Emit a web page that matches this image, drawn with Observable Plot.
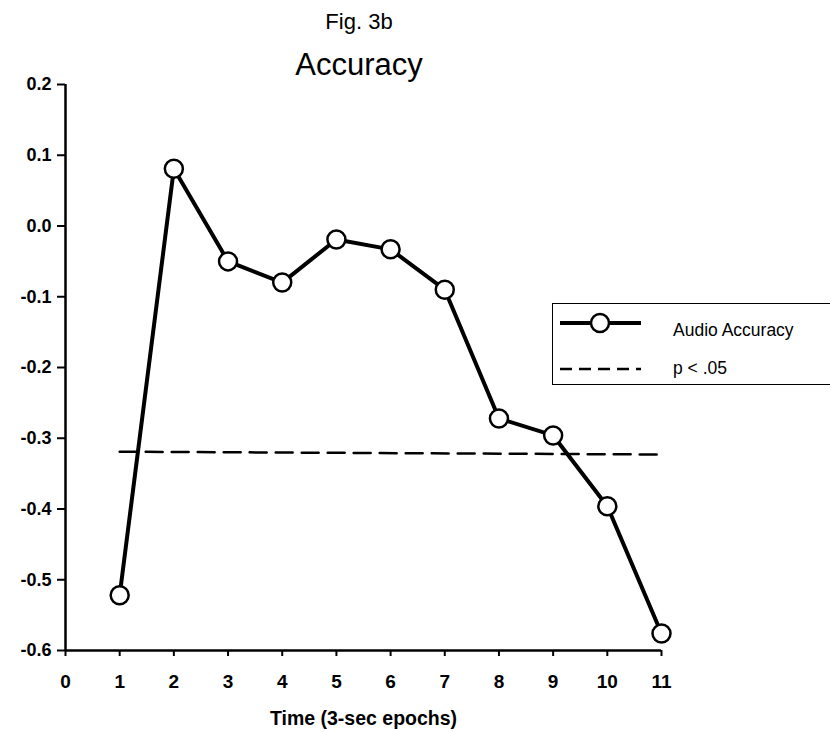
<!DOCTYPE html>
<html>
<head>
<meta charset="utf-8">
<script src="https://cdn.jsdelivr.net/npm/d3@7"></script>
<script src="https://cdn.jsdelivr.net/npm/@observablehq/plot@0.6"></script>
<style>
  html, body { margin: 0; padding: 0; background: #fff; }
  body { width: 830px; height: 732px; overflow: hidden; position: relative; font-family: "Liberation Sans", Arial, sans-serif; }
  #titles { position: relative; height: 74px; }
  .t { position: absolute; left: 0; width: 718px; text-align: center; color: #000; }
  #fig { top: 11px; font-size: 22px; line-height: 22px; }
  #main { top: 49px; font-size: 31px; line-height: 31px; }
  #legend { position: absolute; left: 552px; top: 303px; width: 300px; height: 82px; border: 1.5px solid #000; box-sizing: border-box; background: #fff; }
  #legend svg { position: absolute; left: 0; top: 0; }
  .lt { position: absolute; left: 120px; font-size: 17.5px; line-height: 18px; color: #000; }
</style>
</head>
<body>
<div id="titles">
  <div class="t" id="fig">Fig. 3b</div>
  <div class="t" id="main">Accuracy</div>
</div>
<div id="chart"></div>
<div id="legend">
  <svg width="120" height="80">
    <line x1="7" x2="88" y1="19" y2="19" stroke="#000" stroke-width="4"></line>
    <circle cx="47" cy="19" r="9" fill="#fff" stroke="#000" stroke-width="2.5"></circle>
    <line x1="7" x2="88" y1="65" y2="65" stroke="#000" stroke-width="2.5" stroke-dasharray="12,7"></line>
  </svg>
  <div class="lt" style="top:17px">Audio Accuracy</div>
  <div class="lt" style="top:55px">p &lt; .05</div>
</div>
<script>
const epochs = [1, 2, 3, 4, 5, 6, 7, 8, 9, 10, 11];
const accuracy = [-0.522, 0.081, -0.050, -0.080, -0.019, -0.033, -0.090, -0.272, -0.296, -0.396, -0.576];
const thresholdX = [1, 11];
const thresholdY = [-0.319, -0.323];
const xTicks = [0, 1, 2, 3, 4, 5, 6, 7, 8, 9, 10, 11];
const yTicks = [-0.6, -0.5, -0.4, -0.3, -0.2, -0.1, 0.0, 0.1, 0.2];
const xTitle = "Time (3-sec epochs)";

const series = epochs.map((e, i) => ({x: e, y: accuracy[i]}));
const thresh = thresholdX.map((e, i) => ({x: e, y: thresholdY[i]}));

const chart = Plot.plot({
  width: 830,
  height: 658,
  marginTop: 10,
  marginBottom: 82,
  marginLeft: 65,
  marginRight: 169,
  style: {fontFamily: "Liberation Sans, Arial, sans-serif", color: "#000", background: "#fff", overflow: "visible"},
  x: {domain: [0, 11]},
  y: {domain: [-0.6, 0.2]},
  marks: [
    Plot.axisY({ticks: yTicks, tickSize: 8, tickPadding: 6, tickFormat: d => d.toFixed(1), fontSize: 18, fontWeight: "bold", strokeWidth: 2, label: null}),
    Plot.axisX({ticks: xTicks, tickSize: 6, tickPadding: 18, tickFormat: d => String(d), fontSize: 19, fontWeight: "bold", strokeWidth: 2, label: null}),
    Plot.ruleX([0], {strokeWidth: 2.5}),
    Plot.ruleY([-0.6], {strokeWidth: 2.5}),
    Plot.text([xTitle], {frameAnchor: "bottom", dy: 74, fontSize: 19.5, fontWeight: "bold", lineAnchor: "bottom"}),
    Plot.line(thresh, {x: "x", y: "y", stroke: "#000", strokeWidth: 2.5, strokeDasharray: "17,9"}),
    Plot.line(series, {x: "x", y: "y", stroke: "#000", strokeWidth: 4}),
    Plot.dot(series, {x: "x", y: "y", r: 9, fill: "#fff", stroke: "#000", strokeWidth: 2.5})
  ]
});
document.getElementById("chart").appendChild(chart);
</script>
</body>
</html>
